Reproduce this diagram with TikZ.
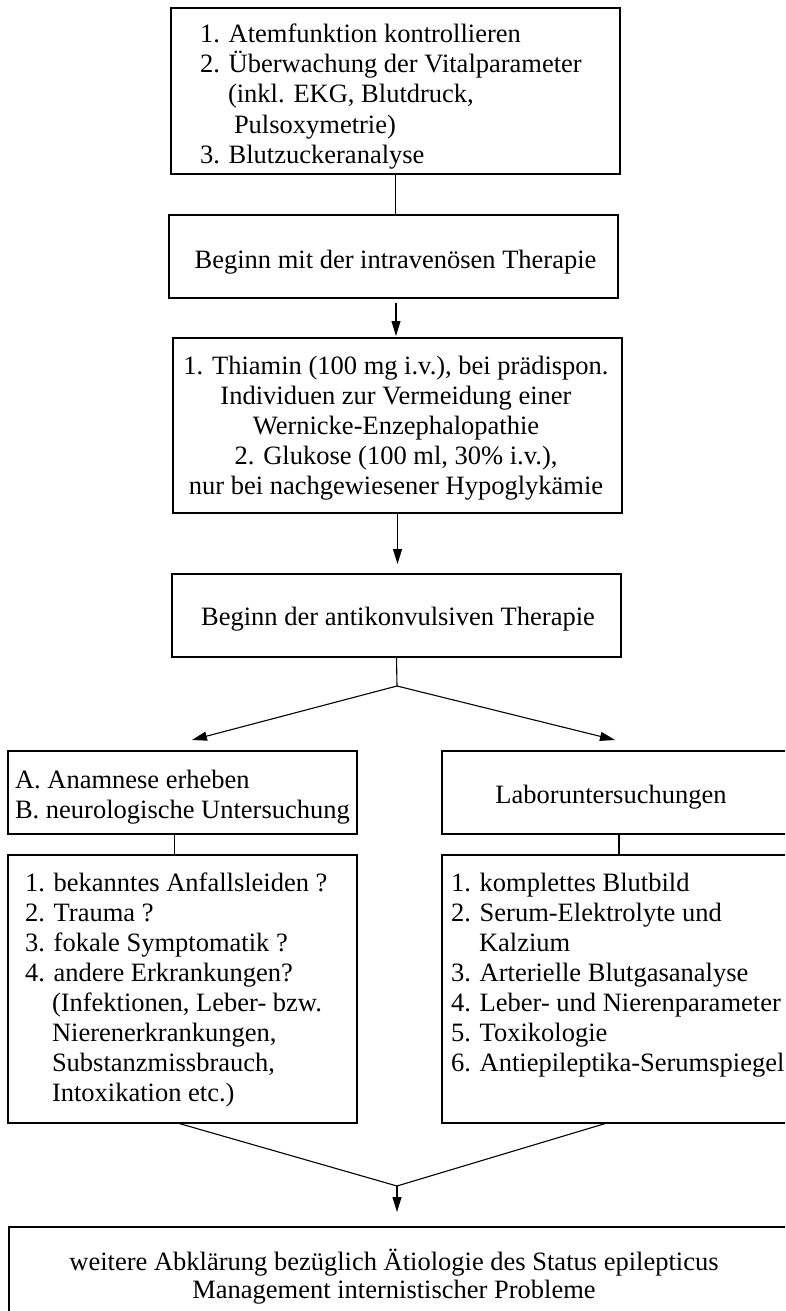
\documentclass[tikz,border=0pt]{standalone}
\usepackage{fontspec}
\setmainfont{Liberation Serif}
\usetikzlibrary{arrows.meta}
\begin{document}
\begin{tikzpicture}[x=1pt,y=-1pt,
  boxst/.style={draw, line width=1.1pt, inner sep=0pt, outer sep=0pt},
  txt/.style={inner sep=0pt, outer sep=0pt, font=\fontsize{26.5}{30}\selectfont},
  conn/.style={line width=1.1pt},
  arr/.style={line width=1.1pt, -{Triangle[length=15pt,width=9pt]}}]
\useasboundingbox (0,0) rectangle (785,1311);
\clip (0,0) rectangle (785,1311);
% boxes
\node[boxst, minimum width=449pt, minimum height=166pt] (b1) at (395.5,91) {};
\node[boxst, minimum width=449pt, minimum height=83pt] (b2) at (393.5,256.5) {};
\node[boxst, minimum width=449pt, minimum height=175pt] (b3) at (397.5,425.5) {};
\node[boxst, minimum width=449pt, minimum height=83pt] (b4) at (396.5,615.5) {};
\node[boxst, minimum width=349pt, minimum height=83pt] (b5l) at (182.5,792.5) {};
\node[boxst, minimum width=354pt, minimum height=83pt] (b5r) at (619,792.5) {};
\node[boxst, minimum width=349pt, minimum height=268pt] (b6l) at (182.5,989) {};
\node[boxst, minimum width=354pt, minimum height=268pt] (b6r) at (619,989) {};
\node[boxst, minimum width=791pt, minimum height=113pt] (b7) at (404.5,1283.5) {};
% texts (base anchor = baseline of the last line)
\node[txt, anchor=base west, align=left] (t1) at (200,163) {1. Atemfunktion kontrollieren\\
2. Überwachung der Vitalparameter\\
\hspace*{28pt}(inkl. EKG, Blutdruck,\\
\hspace*{34pt}Pulsoxymetrie)\\
3. Blutzuckeranalyse};
\node[txt, anchor=base] (t2) at (395.5,268) {Beginn mit der intravenösen Therapie};
\node[txt, anchor=base, align=center] (t3) at (396,494) {1. Thiamin (100 mg i.v.), bei prädispon.\\
Individuen zur Vermeidung einer\\
Wernicke-Enzephalopathie\\
2. Glukose (100 ml, 30\% i.v.),\\
nur bei nachgewiesener Hypoglykämie};
\node[txt, anchor=base] (t4) at (398,625) {Beginn der antikonvulsiven Therapie};
\node[txt, anchor=base west, align=left] (t5l) at (15,818) {A. Anamnese erheben\\
B. neurologische Untersuchung};
\node[txt, anchor=base] (t5r) at (611,803) {Laboruntersuchungen};
\node[txt, anchor=base west, align=left] (t6l) at (25,1101) {1. bekanntes Anfallsleiden ?\\
2. Trauma ?\\
3. fokale Symptomatik ?\\
4. andere Erkrankungen?\\
\hspace*{27pt}(Infektionen, Leber- bzw.\\
\hspace*{27pt}Nierenerkrankungen,\\
\hspace*{27pt}Substanzmissbrauch,\\
\hspace*{27pt}Intoxikation etc.)};
\node[txt, anchor=base west, align=left] (t6r) at (451,1071) {1. komplettes Blutbild\\
2. Serum-Elektrolyte und\\
\hspace*{28pt}Kalzium\\
3. Arterielle Blutgasanalyse\\
4. Leber- und Nierenparameter\\
5. Toxikologie\\
6. Antiepileptika-Serumspiegel};
\node[txt, anchor=base, align=center, font=\fontsize{26.5}{28}\selectfont] (t7) at (394,1298) {weitere Abklärung bezüglich Ätiologie des Status epilepticus\\
Management internistischer Probleme};
% connectors
\draw[conn] (b1.south) -- (b1.south |- b2.north);
\draw[arr, shorten <=5pt, shorten >=2pt] ([xshift=2.5pt]b2.south) -- ([xshift=2.5pt]b2.south |- b3.north);
\draw[arr, shorten >=10pt] (b3.south) -- (b3.south |- b4.north);
\coordinate (j1) at (397,686);
\coordinate (a1) at (192,740);
\coordinate (a2) at (615,740);
\draw[conn] (b4.south) -- (j1);
\draw[arr] (j1) -- (a1);
\draw[arr] (j1) -- (a2);
\draw[conn] ([xshift=-8pt]b5l.south) -- ([xshift=-8pt]b6l.north);
\draw[conn] (b5r.south) -- (b6r.north);
\coordinate (j2) at (397,1186);
\coordinate (a3) at (397,1212);
\draw[conn] ([xshift=-5pt]b6l.south) -- (j2);
\draw[conn] ([xshift=-12pt]b6r.south) -- (j2);
\draw[arr] (j2) -- (a3);
\end{tikzpicture}
\end{document}
